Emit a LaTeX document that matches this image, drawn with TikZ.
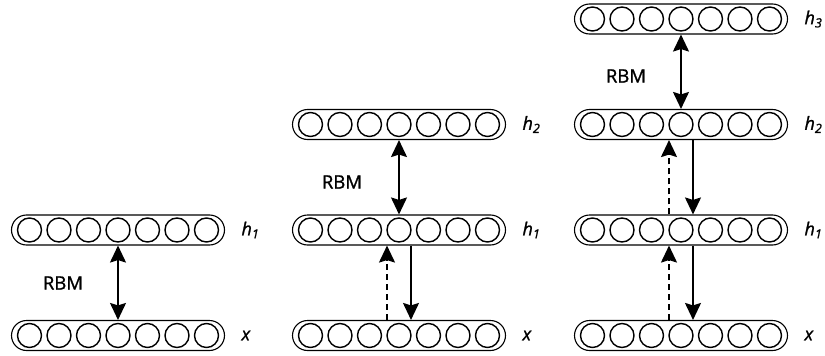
\documentclass[tikz,border=0pt]{standalone}
\usepackage{fontspec}
\setmainfont{Open Sans}
\newfontfamily\heavyfont{Open Sans}[FakeBold=1.2]
\usetikzlibrary{arrows.meta}
\tikzset{
  layerbox/.style={draw, line width=1.1pt, rounded corners=15pt, minimum width=213pt, minimum height=30pt, inner sep=0pt},
  unit/.style={draw, circle, line width=1.4pt, minimum size=24pt, inner sep=0pt},
  lbl/.style={font=\heavyfont\fontsize{18}{18}\selectfont\itshape, anchor=west},
  rbm/.style={font=\heavyfont\fontsize{18.5}{18.5}\selectfont},
  conn/.style={line width=1.8pt, -{Stealth[length=17pt,width=16pt,inset=2.5pt]}},
  both/.style={line width=1.8pt, {Stealth[length=17pt,width=16pt,inset=2.5pt]}-{Stealth[length=17pt,width=16pt,inset=2.5pt]}},
  dsh/.style={dash pattern=on 6pt off 4pt},
}
\newcommand{\layer}[4]{% name, cx, cy, label
  \node[layerbox] (#1) at (#2,#3) {};
  \foreach \k in {-3,...,3}{\node[unit] (#1u\k) at ({#2+\k*29.5},#3) {};}
  \node[lbl] (#1l) at ({#2+120},#3) {#4};
}
\begin{document}
\begin{tikzpicture}[x=1pt,y=-1pt]
\useasboundingbox (0,0) rectangle (825,356);
% column 1
\layer{ax}{118}{335.5}{x}
\layer{ah}{118}{230}{h\textsubscript{1}}
\draw[both] (ah.south) -- (ax.north);
\node[rbm] (ar) at (63,283) {RBM};
% column 2
\layer{bx}{399}{335.5}{x}
\layer{bh}{399}{230}{h\textsubscript{1}}
\layer{bg}{399}{124.5}{h\textsubscript{2}}
\draw[both] (bg.south) -- (bh.north);
\node[rbm] (br) at (342,182) {RBM};
\draw[conn, dsh] ([xshift=-12pt]bx.north) -- ([xshift=-12pt]bh.south);
\draw[conn] ([xshift=12pt]bh.south) -- ([xshift=12pt]bx.north);
% column 3
\layer{cx}{681}{335.5}{x}
\layer{ch}{681}{230}{h\textsubscript{1}}
\layer{cg}{681}{124.5}{h\textsubscript{2}}
\layer{ct}{681}{19}{h\textsubscript{3}}
\draw[both] (ct.south) -- (cg.north);
\node[rbm] (cr) at (626,76) {RBM};
\draw[conn, dsh] ([xshift=-12pt]cx.north) -- ([xshift=-12pt]ch.south);
\draw[conn] ([xshift=12pt]ch.south) -- ([xshift=12pt]cx.north);
\draw[conn, dsh] ([xshift=-12pt]ch.north) -- ([xshift=-12pt]cg.south);
\draw[conn] ([xshift=12pt]cg.south) -- ([xshift=12pt]ch.north);
\end{tikzpicture}
\end{document}
